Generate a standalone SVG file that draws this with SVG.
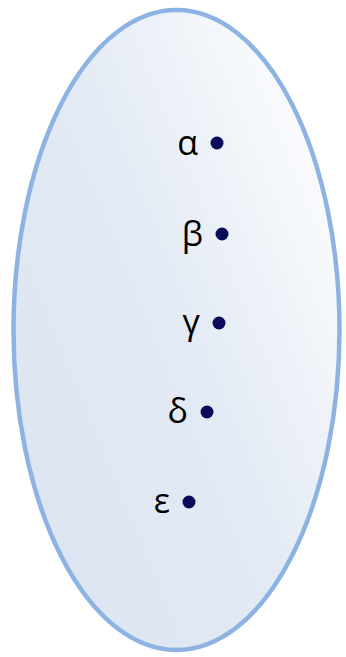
<svg xmlns="http://www.w3.org/2000/svg" width="346" height="657" viewBox="0 0 346 657">
<defs>
<linearGradient id="g" x1="0" y1="0.9" x2="1" y2="0.1">
<stop offset="0" stop-color="#dae4f0"/>
<stop offset="0.5" stop-color="#e3eaf4"/>
<stop offset="1" stop-color="#ffffff"/>
</linearGradient>
<style>
.lbl{font-family:"Open Sans","Liberation Sans",sans-serif;font-size:34px;fill:#000;text-anchor:end}
.dot{fill:#0b0b5c}
</style>
</defs>
<g id="set">
<ellipse cx="176.5" cy="330" rx="163" ry="320" fill="url(#g)" stroke="#8db3e2" stroke-width="4.5"/>
</g>
<g id="alpha"><text class="lbl" x="198" y="155">α</text><circle class="dot" cx="217" cy="143" r="6.5"/></g>
<g id="beta"><text class="lbl" x="203" y="246">β</text><circle class="dot" cx="222" cy="234" r="6.5"/></g>
<g id="gamma"><text class="lbl" x="200" y="334">γ</text><circle class="dot" cx="219" cy="323" r="6.5"/></g>
<g id="delta"><text class="lbl" x="188" y="423">δ</text><circle class="dot" cx="207" cy="412" r="6.5"/></g>
<g id="epsilon"><text class="lbl" x="170" y="513">ε</text><circle class="dot" cx="189" cy="502" r="6.5"/></g>
</svg>
